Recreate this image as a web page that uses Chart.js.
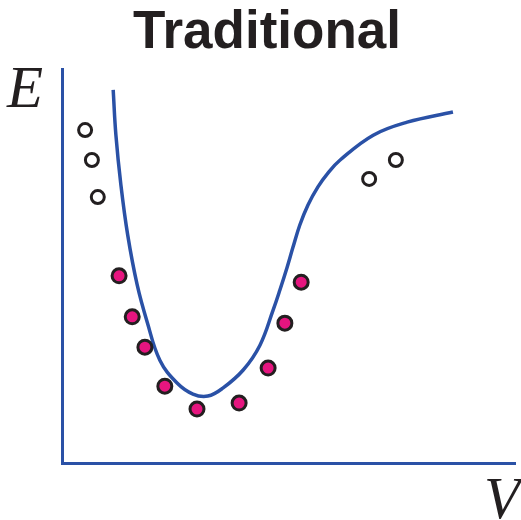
<!DOCTYPE html>
<html>
<head>
<meta charset="utf-8">
<title>Traditional</title>
<script src="https://cdn.jsdelivr.net/npm/chart.js@4/dist/chart.umd.min.js"></script>
<style>
  html, body { margin: 0; padding: 0; background: #ffffff; }
  #wrap { width: 521px; height: 520px; position: relative; }
</style>
</head>
<body>
<div id="wrap"><canvas id="c"></canvas></div>
<script>
// Energy landscape E(V): fitted curve plus measured points
const chartTitle = 'Traditional';
const xLabel = 'V';
const yLabel = 'E';

// Smooth model curve samples (V, E)
const curveV = [1.13, 1.19, 1.30, 1.45, 1.66, 1.88, 2.16, 2.54, 2.89, 3.22, 3.55, 4.00, 4.37, 4.66, 4.81, 4.97, 5.10, 5.25, 5.43, 5.65, 5.87, 6.14, 6.87, 7.62, 8.63];
const curveE = [9.47, 8.32, 7.06, 5.79, 4.52, 3.58, 2.61, 2.03, 1.75, 1.70, 1.90, 2.36, 2.99, 3.88, 4.39, 4.97, 5.48, 6.04, 6.55, 7.01, 7.36, 7.69, 8.32, 8.65, 8.91];

// Points inside the fitted range (filled)
const fitV = [1.26, 1.55, 1.83, 2.27, 2.98, 3.91, 4.55, 4.92, 5.28];
const fitE = [4.75, 3.71, 2.94, 1.95, 1.37, 1.52, 2.41, 3.55, 4.59];

// Points outside the fitted range (open)
const outV = [0.51, 0.66, 0.79, 6.78, 7.37];
const outE = [8.45, 7.69, 6.75, 7.21, 7.69];

const BLUE = '#2a51a6';
const PINK = '#e6157f';
const INK = '#231f20';

const toXY = (xs, ys) => xs.map((x, i) => ({ x: x, y: ys[i] }));

const textPlugin = {
  id: 'labels',
  afterDraw(chart) {
    const ctx = chart.ctx;
    ctx.save();
    ctx.fillStyle = INK;
    ctx.textBaseline = 'alphabetic';
    ctx.textAlign = 'center';
    ctx.font = 'bold 53px "Liberation Sans", Arial, sans-serif';
    ctx.fillText(chartTitle, 267, 48);
    ctx.textAlign = 'left';
    ctx.font = 'italic 59px "Liberation Serif", "Times New Roman", serif';
    ctx.fillText(yLabel, 7, 107);
    ctx.fillText(xLabel, 484, 518);
    ctx.restore();
  }
};

new Chart(document.getElementById('c'), {
  type: 'scatter',
  data: {
    datasets: [
      {
        data: toXY(fitV, fitE),
        showLine: false,
        pointRadius: 7,
        pointHoverRadius: 7,
        pointBackgroundColor: PINK,
        pointBorderColor: INK,
        pointBorderWidth: 3
      },
      {
        data: toXY(outV, outE),
        showLine: false,
        pointRadius: 6.5,
        pointHoverRadius: 6.5,
        pointBackgroundColor: '#ffffff',
        pointBorderColor: INK,
        pointBorderWidth: 3
      },
      {
        data: toXY(curveV, curveE),
        showLine: true,
        borderColor: BLUE,
        borderWidth: 3.5,
        pointRadius: 0,
        pointHoverRadius: 0,
        tension: 0.4,
        fill: false
      }
    ]
  },
  options: {
    responsive: true,
    maintainAspectRatio: false,
    devicePixelRatio: 1,
    animation: false,
    events: [],
    layout: { autoPadding: false, padding: { left: 62, right: 6, top: 69, bottom: 57 } },
    plugins: {
      legend: { display: false },
      tooltip: { enabled: false },
      title: { display: false }
    },
    scales: {
      x: {
        type: 'linear',
        min: 0, max: 10,
        grid: { display: false, drawTicks: false },
        ticks: { display: false },
        border: { display: true, color: BLUE, width: 3 }
      },
      y: {
        type: 'linear',
        min: 0, max: 10,
        grid: { display: false, drawTicks: false },
        ticks: { display: false },
        border: { display: true, color: BLUE, width: 3 }
      }
    }
  },
  plugins: [textPlugin]
});
</script>
</body>
</html>
